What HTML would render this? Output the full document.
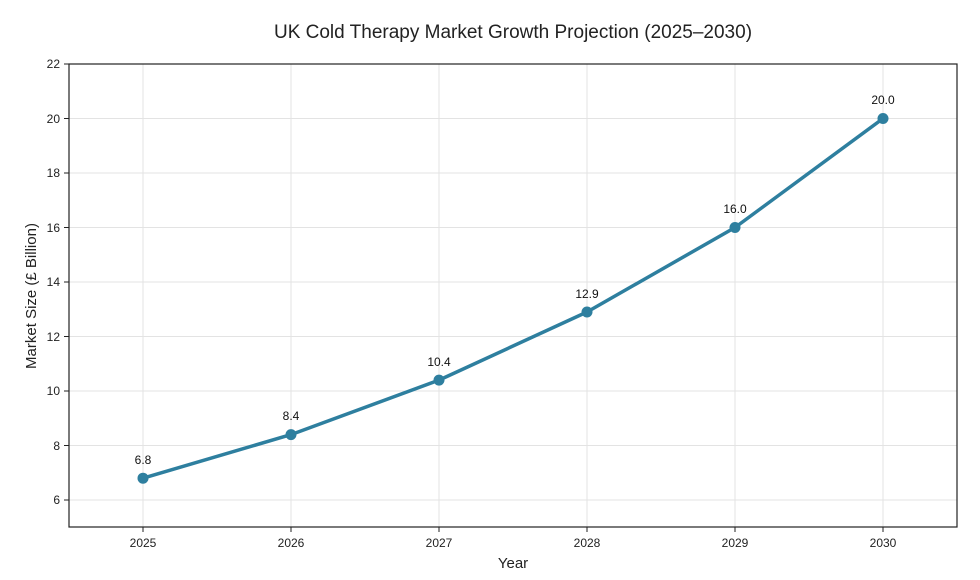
<!DOCTYPE html>
<html><head><meta charset="utf-8"><style>
html,body{margin:0;padding:0;background:#fff;}
svg{display:block;font-family:"Liberation Sans",sans-serif;}
</style></head><body>
<svg width="980" height="580" viewBox="0 0 980 580">
<rect width="980" height="580" fill="#fff"/>
<text x="513" y="38" font-size="19" text-anchor="middle" fill="#222">UK Cold Therapy Market Growth Projection (2025–2030)</text>
<g stroke="#e3e3e3" stroke-width="1">
<line x1="69" x2="957" y1="118.5" y2="118.5"/>
<line x1="69" x2="957" y1="173" y2="173"/>
<line x1="69" x2="957" y1="227.5" y2="227.5"/>
<line x1="69" x2="957" y1="282" y2="282"/>
<line x1="69" x2="957" y1="336.5" y2="336.5"/>
<line x1="69" x2="957" y1="391" y2="391"/>
<line x1="69" x2="957" y1="445.5" y2="445.5"/>
<line x1="69" x2="957" y1="500" y2="500"/>
<line y1="64" y2="527" x1="143" x2="143"/>
<line y1="64" y2="527" x1="291" x2="291"/>
<line y1="64" y2="527" x1="439" x2="439"/>
<line y1="64" y2="527" x1="587" x2="587"/>
<line y1="64" y2="527" x1="735" x2="735"/>
<line y1="64" y2="527" x1="883" x2="883"/>
</g>
<rect x="69" y="64" width="888" height="463" fill="none" stroke="#222" stroke-width="1.2"/>
<g font-size="12" fill="#222" text-anchor="end">
<text x="60" y="68">22</text><text x="60" y="123">20</text><text x="60" y="177">18</text>
<text x="60" y="232">16</text><text x="60" y="286">14</text><text x="60" y="341">12</text>
<text x="60" y="395">10</text><text x="60" y="450">8</text><text x="60" y="504">6</text>
</g>
<g stroke="#222"><line x1="64" x2="69" y1="64" y2="64"/><line x1="64" x2="69" y1="118.5" y2="118.5"/><line x1="64" x2="69" y1="173" y2="173"/><line x1="64" x2="69" y1="227.5" y2="227.5"/><line x1="64" x2="69" y1="282" y2="282"/><line x1="64" x2="69" y1="336.5" y2="336.5"/><line x1="64" x2="69" y1="391" y2="391"/><line x1="64" x2="69" y1="445.5" y2="445.5"/><line x1="64" x2="69" y1="500" y2="500"/>
<line y1="527" y2="532" x1="143" x2="143"/><line y1="527" y2="532" x1="291" x2="291"/><line y1="527" y2="532" x1="439" x2="439"/><line y1="527" y2="532" x1="587" x2="587"/><line y1="527" y2="532" x1="735" x2="735"/><line y1="527" y2="532" x1="883" x2="883"/></g>
<g font-size="12" fill="#222" text-anchor="middle">
<text x="143" y="547">2025</text><text x="291" y="547">2026</text><text x="439" y="547">2027</text>
<text x="587" y="547">2028</text><text x="735" y="547">2029</text><text x="883" y="547">2030</text>
</g>
<text x="513" y="568" font-size="15" text-anchor="middle" fill="#222">Year</text>
<text transform="translate(36,296) rotate(-90)" font-size="15" text-anchor="middle" fill="#222">Market Size (£ Billion)</text>
<polyline points="143,478.2 291,434.6 439,380.1 587,312 735,227.5 883,118.5" fill="none" stroke="#2e7f9f" stroke-width="3.5" stroke-linejoin="round"/>
<g fill="#2e7f9f">
<circle cx="143" cy="478.2" r="5.5"/><circle cx="291" cy="434.6" r="5.5"/><circle cx="439" cy="380.1" r="5.5"/>
<circle cx="587" cy="312" r="5.5"/><circle cx="735" cy="227.5" r="5.5"/><circle cx="883" cy="118.5" r="5.5"/>
</g>
<g font-size="12" fill="#111" text-anchor="middle">
<text x="143" y="464">6.8</text><text x="291" y="420">8.4</text><text x="439" y="366">10.4</text>
<text x="587" y="298">12.9</text><text x="735" y="213">16.0</text><text x="883" y="104">20.0</text>
</g>
</svg>
</body></html>
